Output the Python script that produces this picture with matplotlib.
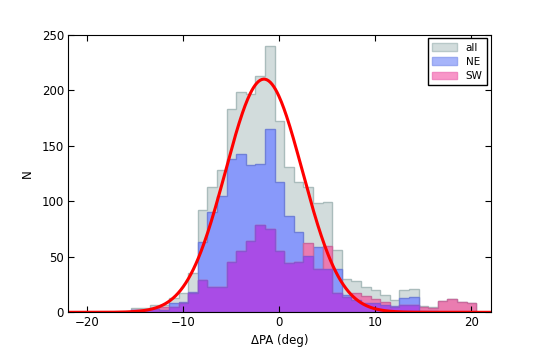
import numpy as np
import matplotlib
matplotlib.use("Agg")
import matplotlib.pyplot as plt
from matplotlib.patches import Patch

# bin centres (deg) and counts
centers = np.arange(-15, 21)
n_all = [4, 4, 7, 7, 13, 17, 35, 92, 113, 128, 183, 198, 197, 213, 240, 172, 131, 117,
         113, 98, 99, 56, 30, 28, 23, 20, 16, 11, 20, 21, 6, 5, 10, 12, 9, 8]
n_ne = [2, 2, 4, 2, 8, 9, 18, 63, 90, 105, 138, 143, 133, 134, 165, 117, 87, 72,
        51, 59, 39, 39, 16, 11, 8, 8, 7, 6, 13, 14, 1, 1, 0, 0, 0, 0]
n_sw = [2, 2, 3, 5, 5, 8, 17, 29, 23, 23, 45, 55, 64, 79, 75, 55, 44, 45,
        62, 39, 60, 17, 14, 17, 15, 12, 9, 5, 7, 7, 5, 4, 10, 12, 9, 8]

# gaussian fit drawn in red
g_amp, g_mu, g_sig = 210.0, -1.6, 4.0

edges = np.append(centers - 0.5, centers[-1] + 0.5)
n_both = np.minimum(n_ne, n_sw)  # where NE and SW overlap (purple)

plt.rcParams['font.size'] = 8.5
plt.rcParams['xtick.direction'] = 'in'
plt.rcParams['ytick.direction'] = 'in'

fig = plt.figure(figsize=(5.45, 3.47), dpi=100)
ax = fig.add_axes([0.125, 0.1, 0.775, 0.8])

ax.hist(centers, bins=edges, weights=n_all, histtype='stepfilled',
        facecolor='#d2dcdc', edgecolor='#aabcbc', lw=1)
ax.hist(centers, bins=edges, weights=n_ne, histtype='stepfilled',
        facecolor='#8899fa', edgecolor='#6f80d8', lw=1)
ax.hist(centers, bins=edges, weights=n_sw, histtype='stepfilled',
        facecolor='#ea7cb0', edgecolor='#c86a9c', lw=1)
ax.hist(centers, bins=edges, weights=n_both, histtype='stepfilled',
        facecolor='#a94ce6', edgecolor='#8a55d0', lw=1)

x = np.linspace(-22, 22, 500)
ax.plot(x, g_amp * np.exp(-(x - g_mu) ** 2 / (2 * g_sig ** 2)), color='red', lw=2.2)

ax.set_xlim(-22, 22)
ax.set_ylim(0, 250)
ax.set_xticks([-20, -10, 0, 10, 20])
ax.set_yticks([0, 50, 100, 150, 200, 250])
ax.tick_params(top=True, right=True, length=4, width=0.8, pad=3)
ax.set_xlabel('ΔPA (deg)', labelpad=3)
ax.set_ylabel('N', labelpad=6)

handles = [Patch(facecolor='#d2dcdc', edgecolor='#b8c8c8', label='all'),
           Patch(facecolor='#a6b4fa', edgecolor='#98a8f0', label='NE'),
           Patch(facecolor='#f896c8', edgecolor='#f088c0', label='SW')]
leg = ax.legend(handles=handles, loc='upper right', fontsize=7.5, fancybox=False,
                framealpha=1, handlelength=2.4, handletextpad=0.8,
                borderaxespad=0.35, labelspacing=0.4)
leg.get_frame().set_edgecolor('black')

fig.savefig('out.png', dpi=100)
